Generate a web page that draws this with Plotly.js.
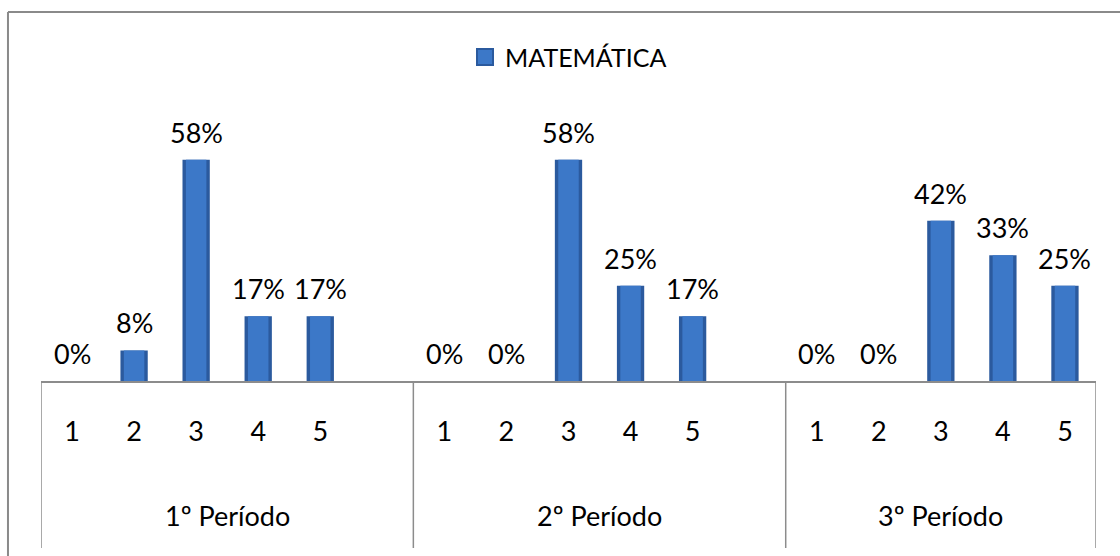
<!DOCTYPE html>
<html>
<head>
<meta charset="utf-8">
<script src="https://cdn.plot.ly/plotly-3.0.1.min.js"></script>
<style>
  html, body { margin: 0; padding: 0; background: #ffffff; }
  #chart { width: 1120px; height: 556px; }
</style>
</head>
<body>
<div id="chart"></div>
<script>
// Percentage of students per grade level (1-5), for each school term
const seriesName = 'MATEMÁTICA';
const periods = ['1º Período', '2º Período', '3º Período'];
const levels = ['1', '2', '3', '4', '5'];
const period1 = [0, 8, 58, 17, 17];
const period2 = [0, 0, 58, 25, 17];
const period3 = [0, 0, 42, 33, 25];
// empty category slot that follows each term on the axis
const trailingBlank = [1, 1, 0];

const values = [period1, period2, period3];

// category positions along the axis, grouped by term
const xs = [], ys = [], tickVals = [], tickText = [];
const groupStart = [], groupEnd = [];
let pos = 0;
values.forEach((vals, g) => {
  groupStart.push(pos - 0.5);
  vals.forEach((v, i) => {
    xs.push(pos + i);
    ys.push(v);
    tickVals.push(pos + i);
    tickText.push(levels[i]);
  });
  pos += levels.length + trailingBlank[g];
  groupEnd.push(pos - 0.5);
});

const font = 'Lato, "Open Sans", sans-serif';
const axisGray = '#8c8c8c';
const rimBlue = '#2b5a9e';
const faceBlue = '#3c78c8';

// two stacked layers give the bars a darker bevelled rim
const rim = {
  type: 'bar', x: xs, y: ys, name: seriesName, width: 0.44,
  marker: { color: rimBlue, line: { width: 0 } },
  hoverinfo: 'skip', showlegend: false
};
const face = {
  type: 'bar', x: xs, y: ys, name: seriesName, width: 0.33,
  marker: { color: faceBlue, line: { width: 0 } },
  hoverinfo: 'skip', showlegend: false
};
// legend entry with a larger square key
const key = {
  type: 'scatter', mode: 'markers', x: [null], y: [null], name: seriesName,
  marker: { symbol: 'square', size: 16, color: faceBlue, line: { color: rimBlue, width: 2 } },
  hoverinfo: 'skip', showlegend: true
};

const annotations = [];
xs.forEach((x, k) => {
  annotations.push({
    x: x, y: ys[k], xref: 'x', yref: 'y',
    text: ys[k] + '%', showarrow: false,
    yanchor: 'bottom', yshift: 9,
    font: { family: font, size: 27, color: '#000000' }
  });
});
periods.forEach((p, g) => {
  annotations.push({
    x: (groupStart[g] + groupEnd[g]) / 2, xref: 'x',
    y: -0.502, yref: 'paper', yanchor: 'middle',
    text: p, showarrow: false,
    font: { family: font, size: 27, color: '#000000' }
  });
});

// term dividers below the axis
const shapes = [];
const bounds = [groupStart[0]].concat(groupEnd);
bounds.forEach(b => {
  shapes.push({
    type: 'line', xref: 'x', yref: 'paper',
    x0: b, x1: b, y0: 0, y1: -0.6255,
    line: { color: axisGray, width: 1.5 }
  });
});
// chart frame
shapes.push({
  type: 'line', xref: 'paper', yref: 'paper',
  x0: -0.0313, x1: 1.2, y0: 1.382, y1: 1.382,
  line: { color: '#8a8a8a', width: 2 }
});
shapes.push({
  type: 'line', xref: 'paper', yref: 'paper',
  x0: -0.0313, x1: -0.0313, y0: 1.382, y1: -1.2,
  line: { color: '#8a8a8a', width: 2 }
});

const layout = {
  width: 1120, height: 556,
  margin: { l: 41, r: 24, t: 114, b: 175, pad: 0 },
  paper_bgcolor: '#ffffff', plot_bgcolor: '#ffffff',
  barmode: 'overlay',
  font: { family: font, color: '#000000' },
  showlegend: true,
  legend: {
    orientation: 'h', x: 0.5, xanchor: 'center', y: 1.213, yanchor: 'middle',
    font: { family: font, size: 25, color: '#000000' },
    itemwidth: 30
  },
  xaxis: {
    range: [-0.5, pos - 0.5],
    tickmode: 'array', tickvals: tickVals, ticktext: tickText,
    ticks: '', showgrid: false, zeroline: false,
    showline: true, linecolor: axisGray, linewidth: 1.5,
    tickfont: { family: font, size: 27, color: '#000000' },
    ticklabelstandoff: 26,
    fixedrange: true
  },
  yaxis: {
    range: [0, 70], showgrid: false, zeroline: false,
    showticklabels: false, showline: false, ticks: '',
    fixedrange: true
  },
  annotations: annotations,
  shapes: shapes
};

Plotly.newPlot('chart', [rim, face, key], layout, { displayModeBar: false, staticPlot: true });
</script>
</body>
</html>
